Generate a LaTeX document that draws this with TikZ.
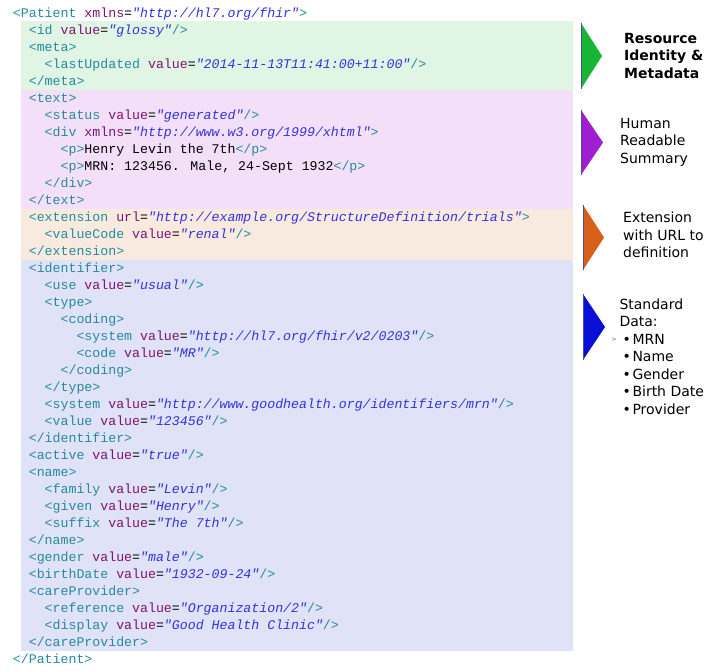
\documentclass[tikz,border=0pt]{standalone}
\usepackage{fontspec}
\newfontfamily\codefont{Liberation Mono}
\newfontfamily\labfont{DejaVu Sans}
\definecolor{tagc}{RGB}{38,138,160}
\definecolor{attc}{RGB}{128,20,112}
\definecolor{valc}{RGB}{50,50,220}
\definecolor{bggreen}{RGB}{224,245,228}
\definecolor{bgpurple}{RGB}{243,224,248}
\definecolor{bgorange}{RGB}{249,234,224}
\definecolor{bgblue}{RGB}{224,226,248}
\definecolor{trgreen}{RGB}{22,182,50}
\definecolor{trpurple}{RGB}{160,30,210}
\definecolor{trorange}{RGB}{215,95,25}
\definecolor{trblue}{RGB}{10,15,215}
\definecolor{tredge}{RGB}{70,80,160}
\newcommand\tagt[1]{\textcolor{tagc}{#1}}
\newcommand\attt[1]{\textcolor{attc}{#1}}
\newcommand\valt[1]{\textcolor{valc}{\itshape #1}}
\newcommand\xmlline[3]{\node[codeline] (l#1) at ({12.7+7.95*#2},{18+16.98*#1}) {#3};}
\tikzset{
  codeline/.style={anchor=base west, inner sep=0pt, font=\codefont\fontsize{13.25}{16}\selectfont},
  lab/.style={anchor=base west, inner sep=0pt, font=\labfont\fontsize{14}{17}\selectfont},
  labbold/.style={lab, font=\labfont\bfseries\fontsize{14}{17}\selectfont},
  marker/.style={draw=none},
  edgeline/.style={draw=tredge, line width=0.9pt}
}
\begin{document}
\begin{tikzpicture}[x=1pt,y=-1pt]
\useasboundingbox (0,0) rectangle (727,671);
\fill[white] (0,0) rectangle (727,671);
% section backgrounds
\fill[bggreen] (20.7,21.5) rectangle (573,90);
\fill[bgpurple] (20.7,90) rectangle (573,209);
\fill[bgorange] (20.7,209) rectangle (573,259.5);
\fill[bgblue] (20.7,259.5) rectangle (573,650.5);
% code lines
\xmlline{0}{0}{\tagt{<Patient} \attt{xmlns}=\valt{"http://hl7.org/fhir"}\tagt{>}}
\xmlline{1}{2}{\tagt{<id} \attt{value}=\valt{"glossy"}\tagt{/>}}
\xmlline{2}{2}{\tagt{<meta>}}
\xmlline{3}{4}{\tagt{<lastUpdated} \attt{value}=\valt{"2014-11-13T11:41:00+11:00"}\tagt{/>}}
\xmlline{4}{2}{\tagt{</meta>}}
\xmlline{5}{2}{\tagt{<text>}}
\xmlline{6}{4}{\tagt{<status} \attt{value}=\valt{"generated"}\tagt{/>}}
\xmlline{7}{4}{\tagt{<div} \attt{xmlns}=\valt{"http://www.w3.org/1999/xhtml"}\tagt{>}}
\xmlline{8}{6}{\tagt{<p>}Henry Levin the 7th\tagt{</p>}}
\xmlline{9}{6}{\tagt{<p>}MRN: 123456. Male, 24-Sept 1932\tagt{</p>}}
\xmlline{10}{4}{\tagt{</div>}}
\xmlline{11}{2}{\tagt{</text>}}
\xmlline{12}{2}{\tagt{<extension} \attt{url}=\valt{"http://example.org/StructureDefinition/trials"}\tagt{>}}
\xmlline{13}{4}{\tagt{<valueCode} \attt{value}=\valt{"renal"}\tagt{/>}}
\xmlline{14}{2}{\tagt{</extension>}}
\xmlline{15}{2}{\tagt{<identifier>}}
\xmlline{16}{4}{\tagt{<use} \attt{value}=\valt{"usual"}\tagt{/>}}
\xmlline{17}{4}{\tagt{<type>}}
\xmlline{18}{6}{\tagt{<coding>}}
\xmlline{19}{8}{\tagt{<system} \attt{value}=\valt{"http://hl7.org/fhir/v2/0203"}\tagt{/>}}
\xmlline{20}{8}{\tagt{<code} \attt{value}=\valt{"MR"}\tagt{/>}}
\xmlline{21}{6}{\tagt{</coding>}}
\xmlline{22}{4}{\tagt{</type>}}
\xmlline{23}{4}{\tagt{<system} \attt{value}=\valt{"http://www.goodhealth.org/identifiers/mrn"}\tagt{/>}}
\xmlline{24}{4}{\tagt{<value} \attt{value}=\valt{"123456"}\tagt{/>}}
\xmlline{25}{2}{\tagt{</identifier>}}
\xmlline{26}{2}{\tagt{<active} \attt{value}=\valt{"true"}\tagt{/>}}
\xmlline{27}{2}{\tagt{<name>}}
\xmlline{28}{4}{\tagt{<family} \attt{value}=\valt{"Levin"}\tagt{/>}}
\xmlline{29}{4}{\tagt{<given} \attt{value}=\valt{"Henry"}\tagt{/>}}
\xmlline{30}{4}{\tagt{<suffix} \attt{value}=\valt{"The 7th"}\tagt{/>}}
\xmlline{31}{2}{\tagt{</name>}}
\xmlline{32}{2}{\tagt{<gender} \attt{value}=\valt{"male"}\tagt{/>}}
\xmlline{33}{2}{\tagt{<birthDate} \attt{value}=\valt{"1932-09-24"}\tagt{/>}}
\xmlline{34}{2}{\tagt{<careProvider>}}
\xmlline{35}{4}{\tagt{<reference} \attt{value}=\valt{"Organization/2"}\tagt{/>}}
\xmlline{36}{4}{\tagt{<display} \attt{value}=\valt{"Good Health Clinic"}\tagt{/>}}
\xmlline{37}{2}{\tagt{</careProvider>}}
\xmlline{38}{0}{\tagt{</Patient>}}
% triangles
\fill[trgreen] (581,23) -- (581,89) -- (602,56) -- cycle;
\draw[edgeline] (581,23) -- (581,89);
\fill[trpurple] (581,110) -- (581,175) -- (603,142.5) -- cycle;
\draw[edgeline] (581,110) -- (581,175);
\fill[trorange] (583,205) -- (583,270) -- (604,237.5) -- cycle;
\draw[edgeline] (583,205) -- (583,270);
\fill[trblue] (583,294) -- (583,360) -- (605,327) -- cycle;
\draw[edgeline] (583,294) -- (583,360);
% labels
\node[labbold] (r1) at (624,43.5) {Resource};
\node[labbold] (r2) at (624,61) {Identity \&};
\node[labbold] (r3) at (624,78.5) {Metadata};
\node[lab] (h1) at (620,128.5) {Human};
\node[lab] (h2) at (620,146) {Readable};
\node[lab] (h3) at (620,163.5) {Summary};
\node[lab] (e1) at (623,222.3) {Extension};
\node[lab] (e2) at (623,240) {with URL to};
\node[lab] (e3) at (623,257.7) {definition};
\node[lab] (s1) at (619.3,309.3) {Standard};
\node[lab] (s2) at (619.3,326.7) {Data:};
\node[anchor=base west, inner sep=0pt, text=tagc, font=\labfont\fontsize{6}{7}\selectfont] (sm) at (611.5,341.5) {>};
\foreach \t/\y [count=\i] in {MRN/344, Name/361.7, Gender/379.3, Birth Date/396.7, Provider/414}{
  \node[lab] (b\i) at (622.3,\y) {•};
  \node[lab] (t\i) at (632.3,\y) {\t};
}
\end{tikzpicture}
\end{document}
